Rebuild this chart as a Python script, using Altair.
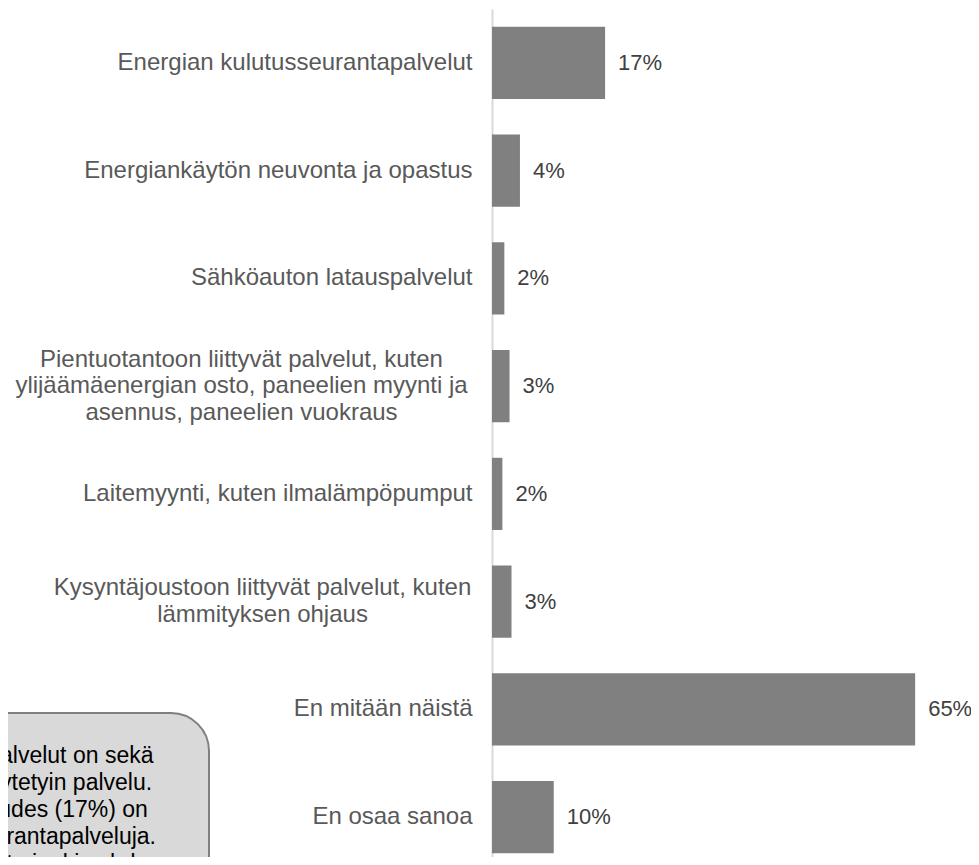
import altair as alt
import pandas as pd

categories = [
    "Energian kulutusseurantapalvelut",
    "Energiankäytön neuvonta ja opastus",
    "Sähköauton latauspalvelut",
    "Pientuotantoon liittyvät palvelut, kuten\nylijäämäenergian osto, paneelien myynti ja\nasennus, paneelien vuokraus",
    "Laitemyynti, kuten ilmalämpöpumput",
    "Kysyntäjoustoon liittyvät palvelut, kuten\nlämmityksen ohjaus",
    "En mitään näistä",
    "En osaa sanoa",
]
values = [17.4, 4.3, 1.9, 2.7, 1.6, 3.0, 65.1, 9.5]

box_lines = [
    "Energian kulutusseurantapalvelut on sekä",
    "tunnetuin että laajimmin käytetyin palvelu.",
    "Vastanneista lähes joka kuudes (17%) on",
    "joskus käyttänyt kulutusseurantapalveluja.",
    "Noin kolmannes on kokeillut ainakin yhden",
    "mainituista palveluista.",
]

FONT = "Liberation Sans"

df = pd.DataFrame({"cat": categories, "val": values})

label_align = {
    "condition": {"test": "indexof(datum.value, '\\n') >= 0", "value": "center"},
    "value": "right",
}
label_padding = {
    "condition": [
        {"test": "indexof(datum.value, 'Pientuotantoon') >= 0", "value": 251},
        {"test": "indexof(datum.value, 'Kysyntäjoustoon') >= 0", "value": 230},
    ],
    "value": 20,
}
label_offset = {
    "condition": [
        {"test": "length(split(datum.value, '\\n')) == 3", "value": -26.5},
        {"test": "length(split(datum.value, '\\n')) == 2", "value": -13.25},
    ],
    "value": 0,
}

y_enc = alt.Y(
    "cat:N",
    sort=categories,
    scale=alt.Scale(paddingInner=0.33, paddingOuter=0.165),
    axis=alt.Axis(
        title=None,
        ticks=False,
        domainColor="#d9d9d9",
        domainWidth=2,
        labelFont=FONT,
        labelFontSize=24,
        labelColor="#595959",
        labelLimit=0,
        labelPadding=label_padding,
        labelAlign=label_align,
        labelOffset=label_offset,
        labelLineHeight=26.5,
        labelOverlap=False,
        labelExpr="split(datum.label, '\\n')",
    ),
)
x_enc = alt.X("val:Q", scale=alt.Scale(domain=[0, 70]), axis=None)

bars = alt.Chart(df).mark_bar(color="#808080").encode(x=x_enc, y=y_enc)

vals = (
    alt.Chart(df)
    .transform_calculate(lab="round(datum.val) + '%'")
    .mark_text(align="left", baseline="middle", dx=13, font=FONT, fontSize=22, color="#404040")
    .encode(x=x_enc, y=y_enc, text="lab:N")
)

one = pd.DataFrame({"k": [0]})
box = (
    alt.Chart(one)
    .mark_rect(fill="#d9d9d9", stroke="#7f7f7f", strokeWidth=2, cornerRadius=38)
    .encode(x=alt.value(-892), x2=alt.value(-283), y=alt.value(704), y2=alt.value(1000))
)
box_text = (
    alt.Chart(one)
    .mark_text(text=box_lines, align="left", baseline="alphabetic", font=FONT,
               fontSize=23, lineHeight=27, color="#000000")
    .encode(x=alt.value(-765.6), y=alt.value(754))
)

chart = (
    alt.layer(box, box_text, bars, vals)
    .properties(
        width=455,
        height=862,
        padding={"left": 484, "top": 1, "right": 24, "bottom": -14},
        autosize="none",
    )
    .configure_view(stroke=None)
)

chart.save("out.html", embed_options={"renderer": "svg", "actions": False})
